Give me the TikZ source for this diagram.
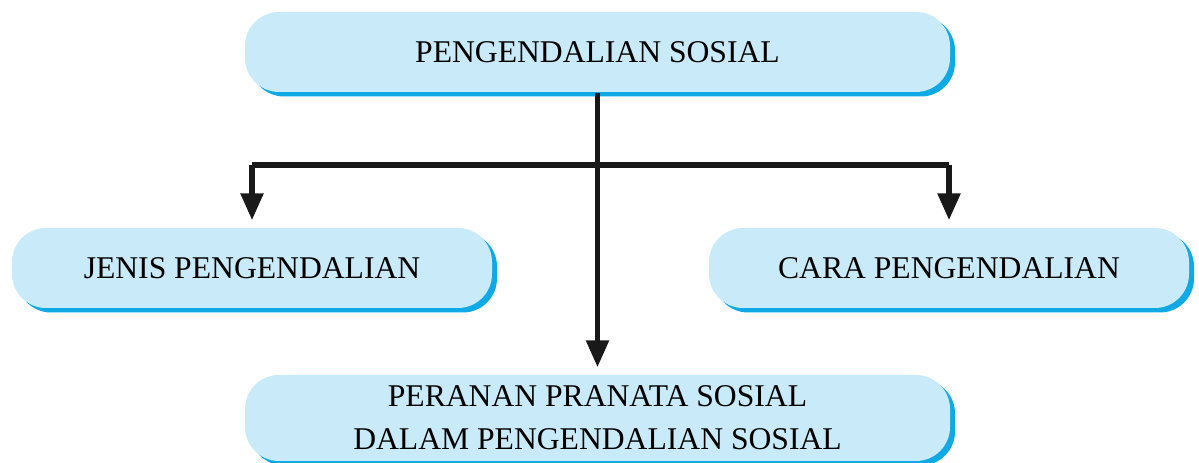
\documentclass[tikz,border=0pt]{standalone}
\usepackage{fontspec}
\setmainfont{Liberation Serif}
\usepackage{tikz}
\usetikzlibrary{arrows.meta,positioning,shadows}

\definecolor{boxfill}{HTML}{C8EAF9}
\definecolor{boxshade}{HTML}{0FA9E6}

\begin{document}
\begin{tikzpicture}[
  >={Triangle[width=0.22cm,length=0.27cm]},
  every node/.style={font=\fontsize{9}{12.2}\selectfont},
  topic/.style={fill=boxfill, rounded corners=0.34cm, minimum height=0.8cm,
    align=center, inner sep=0pt,
    drop shadow={fill=boxshade, opacity=1, shadow xshift=0.05cm, shadow yshift=-0.045cm}},
  link/.style={line width=1.6pt, black!90}
]
  \useasboundingbox (0,0) rectangle (11.99,4.63);

  \node[topic, minimum width=7.05cm] (sosial) at (5.975,4.11) {PENGENDALIAN SOSIAL};
  \node[topic, minimum width=4.8cm] (jenis) at (2.52,1.95) {JENIS PENGENDALIAN};
  \node[topic, minimum width=4.8cm] (cara) at (9.49,1.95) {CARA PENGENDALIAN};
  \node[topic, minimum width=7.05cm, minimum height=0.86cm] (peranan) at (5.975,0.45)
    {PERANAN PRANATA SOSIAL\\DALAM PENGENDALIAN SOSIAL};

  \coordinate (branch) at (0,2.98);
  \draw[link, ->, shorten >=2pt] (sosial.south) -- (peranan.north);
  \draw[link] (jenis.north |- branch) -- (cara.north |- branch);
  \draw[link, ->, shorten >=2pt] (jenis.north |- branch) -- (jenis.north);
  \draw[link, ->, shorten >=2pt] (cara.north |- branch) -- (cara.north);
\end{tikzpicture}
\end{document}
